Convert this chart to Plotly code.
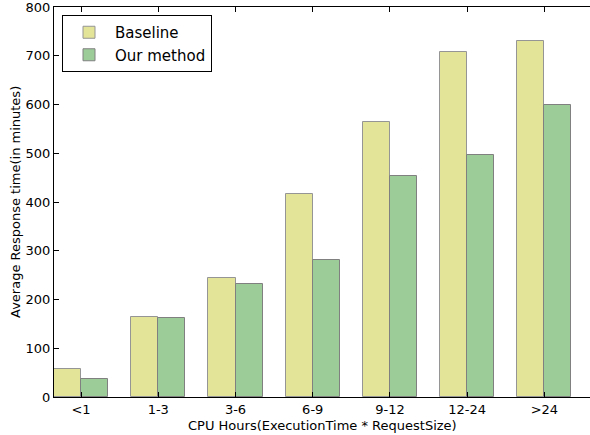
import plotly.graph_objects as go

categories = ["<1", "1-3", "3-6", "6-9", "9-12", "12-24", ">24"]
baseline = [57, 164, 245, 417, 564, 708, 731]
our_method = [36, 163, 231, 282, 453, 497, 600]
y_ticks = [0, 100, 200, 300, 400, 500, 600, 700, 800]

W = 0.35
idx = list(range(len(categories)))

fig = go.Figure()
fig.add_trace(go.Bar(
    x=[i + W / 2 for i in idx], y=baseline, width=W, name="Baseline",
    marker=dict(color="#e3e497", line=dict(color="#959595", width=1)),
))
fig.add_trace(go.Bar(
    x=[i + 1.5 * W for i in idx], y=our_method, width=W, name="Our method",
    marker=dict(color="#9ccd98", line=dict(color="#808080", width=1)),
))

font_family = "DejaVu Sans, Verdana, sans-serif"
L, R, T, B = 54, 0, 7, 38
PW, PH = 590 - L - R, 435 - T - B

fig.update_layout(
    width=590, height=435,
    margin=dict(l=L, r=R, t=T, b=B, autoexpand=False),
    plot_bgcolor="white", paper_bgcolor="white",
    barmode="overlay", bargap=0,
    font=dict(family=font_family, size=13, color="black"),
    showlegend=True,
    legend=dict(
        x=(62 - L) / PW, y=1 - (15 - T) / PH, xanchor="left", yanchor="top",
        bgcolor="white", bordercolor="black", borderwidth=1,
        font=dict(size=15, family=font_family),
        itemwidth=42, tracegroupgap=0,
    ),
    xaxis=dict(
        range=[0, 6.94], automargin=False,
        tickvals=[i + W for i in idx], ticktext=categories,
        ticks="inside", ticklen=5, tickcolor="black",
        showline=True, linecolor="black", linewidth=1, mirror="ticks",
        showgrid=False, zeroline=False, ticklabeloverflow="allow",
        tickfont=dict(size=13),
    ),
    yaxis=dict(
        range=[0, 800], tickvals=y_ticks, automargin=False,
        ticks="inside", ticklen=5, tickcolor="black",
        showline=True, linecolor="black", linewidth=1, mirror=False,
        showgrid=False, zeroline=False, ticklabeloverflow="allow",
        tickfont=dict(size=13),
    ),
    annotations=[
        dict(text="CPU Hours(ExecutionTime * RequestSize)", xref="paper", yref="paper",
             x=(322 - L) / PW, y=0, yshift=-28, xanchor="center", yanchor="middle",
             showarrow=False, font=dict(size=13)),
        dict(text="Average Response time(in minutes)", xref="paper", yref="paper",
             x=0, xshift=-(L - 15), y=0.5, textangle=-90, xanchor="center", yanchor="middle",
             showarrow=False, font=dict(size=13)),
    ],
)

fig.write_html(
    "out.html",
    config={"displayModeBar": False},
    post_script="document.body.style.margin='0';document.body.style.overflow='hidden';",
)
